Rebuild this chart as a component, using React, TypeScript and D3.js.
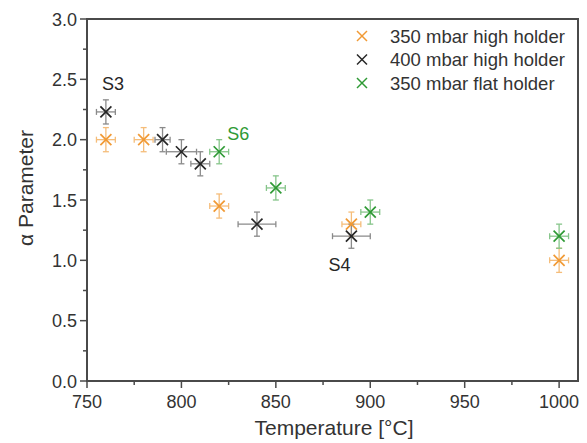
import React from "react";
import * as d3 from "d3";

const seriesNames = ["350 mbar high holder", "400 mbar high holder", "350 mbar flat holder"];
const seriesColors = ["#f19a35", "#262626", "#2f9a35"];
const errColors = ["#f5bd7a", "#8a8a8a", "#86c58a"];

const orangeT = [760, 780, 820, 890, 1000];
const orangeA = [2.0, 2.0, 1.45, 1.3, 1.0];
const orangeXErr = [5, 5, 5, 5, 5];
const orangeYErr = [0.1, 0.1, 0.1, 0.1, 0.1];

const blackT = [760, 790, 800, 810, 840, 890];
const blackA = [2.23, 2.0, 1.9, 1.8, 1.3, 1.2];
const blackXErr = [5, 4, 8, 5, 10, 10];
const blackYErr = [0.1, 0.1, 0.1, 0.1, 0.1, 0.1];

const greenT = [820, 850, 900, 1000];
const greenA = [1.9, 1.6, 1.4, 1.2];
const greenXErr = [5, 5, 5, 5];
const greenYErr = [0.1, 0.1, 0.1, 0.1];

const xMajor = [750, 800, 850, 900, 950, 1000];
const xMinor = [775, 825, 875, 925, 975];
const yMajor = [0.0, 0.5, 1.0, 1.5, 2.0, 2.5, 3.0];
const yMinor = [0.25, 0.75, 1.25, 1.75, 2.25, 2.75];

const annotations = [
  { text: "S3", t: 760, a: 2.23, color: "#262626", dx: -4, dy: -22 },
  { text: "S6", t: 820, a: 1.9, color: "#2f9a35", dx: 8, dy: -12 },
  { text: "S4", t: 890, a: 1.2, color: "#262626", dx: -23, dy: 35 },
];

const W = 587, H = 443;
const font = "'Liberation Sans', Arial, sans-serif";

export default function App() {
  const x = d3.scaleLinear().domain([750, 1010]).range([87, 578]);
  const y = d3.scaleLinear().domain([0, 3]).range([381, 19]);
  const series = [
    { t: orangeT, a: orangeA, xe: orangeXErr, ye: orangeYErr },
    { t: blackT, a: blackA, xe: blackXErr, ye: blackYErr },
    { t: greenT, a: greenA, xe: greenXErr, ye: greenYErr },
  ];
  const axisColor = "#4a4a4a";
  const m = 5.5;
  const cap = 3;
  const cross = (cx: number, cy: number, color: string, key: string, s = m, sw = 1.7) => (
    <g key={key} stroke={color} strokeWidth={sw}>
      <line x1={cx - s} y1={cy - s} x2={cx + s} y2={cy + s} />
      <line x1={cx - s} y1={cy + s} x2={cx + s} y2={cy - s} />
    </g>
  );
  return (
    <svg width={W} height={H} style={{ position: "absolute", left: 0, top: 0, background: "#fff" }} fontFamily={font}>
      <rect x={0} y={0} width={W} height={H} fill="#fff" />
      {/* error bars */}
      {series.map((s, si) =>
        s.t.map((t, i) => {
          const cx = x(t), cy = y(s.a[i]);
          const x0 = x(t - s.xe[i]), x1 = x(t + s.xe[i]);
          const y0 = y(s.a[i] - s.ye[i]), y1 = y(s.a[i] + s.ye[i]);
          return (
            <g key={`e${si}-${i}`} stroke={errColors[si]} strokeWidth={1.3} fill="none">
              <line x1={x0} y1={cy} x2={x1} y2={cy} />
              <line x1={x0} y1={cy - cap} x2={x0} y2={cy + cap} />
              <line x1={x1} y1={cy - cap} x2={x1} y2={cy + cap} />
              <line x1={cx} y1={y0} x2={cx} y2={y1} />
              <line x1={cx - cap} y1={y0} x2={cx + cap} y2={y0} />
              <line x1={cx - cap} y1={y1} x2={cx + cap} y2={y1} />
            </g>
          );
        })
      )}
      {series.map((s, si) => s.t.map((t, i) => cross(x(t), y(s.a[i]), seriesColors[si], `m${si}-${i}`)))}
      {/* frame */}
      <rect x={87} y={19} width={578 - 87} height={381 - 19} fill="none" stroke={axisColor} strokeWidth={2} />
      {/* x ticks */}
      {xMajor.map((t) => (
        <g key={`xt${t}`}>
          <line x1={x(t)} x2={x(t)} y1={381} y2={388} stroke={axisColor} strokeWidth={1.5} />
          <text x={x(t)} y={408} textAnchor="middle" fontSize={18} fill="#333">{t}</text>
        </g>
      ))}
      {xMinor.map((t) => (
        <line key={`xm${t}`} x1={x(t)} x2={x(t)} y1={381} y2={385} stroke={axisColor} strokeWidth={1.5} />
      ))}
      {yMajor.map((v) => (
        <g key={`yt${v}`}>
          <line x1={80} x2={87} y1={y(v)} y2={y(v)} stroke={axisColor} strokeWidth={1.5} />
          <text x={77} y={y(v) + 6.5} textAnchor="end" fontSize={18} fill="#333">{v.toFixed(1)}</text>
        </g>
      ))}
      {yMinor.map((v) => (
        <line key={`ym${v}`} x1={83} x2={87} y1={y(v)} y2={y(v)} stroke={axisColor} strokeWidth={1.5} />
      ))}
      {/* axis titles */}
      <text x={334} y={435} textAnchor="middle" fontSize={21} fill="#333">Temperature [°C]</text>
      <text transform="translate(33,188) rotate(-90)" textAnchor="middle" fontSize={21} fill="#333">α Parameter</text>
      {/* annotations */}
      {annotations.map((an) => (
        <text key={an.text} x={x(an.t) + an.dx} y={y(an.a) + an.dy} fontSize={18} fill={an.color}>{an.text}</text>
      ))}
      {/* legend */}
      {seriesNames.map((n, i) => (
        <g key={n}>
          {cross(362, 36 + i * 23.5, seriesColors[i], `l${i}`, 5, 1.5)}
          <text x={390} y={36 + i * 23.5 + 6.5} fontSize={18.5} fill="#333">{n}</text>
        </g>
      ))}
    </svg>
  );
}
